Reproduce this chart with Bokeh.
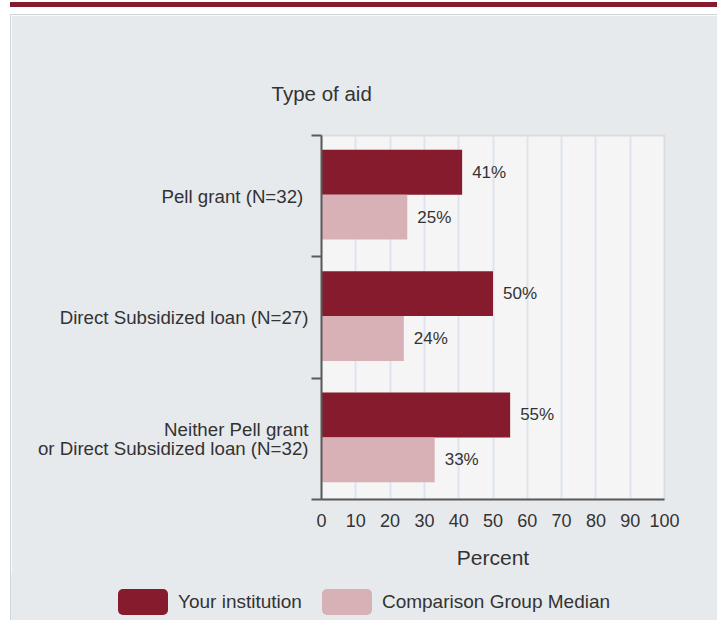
from bokeh.plotting import figure
from bokeh.models import (Range1d, FixedTicker, ColumnDataSource, Div, Spacer)
from bokeh.layouts import column, row
from bokeh.core.properties import value
from bokeh.embed import file_html
from bokeh.resources import INLINE

# ---- data ----
categories = ["Pell grant  (N=32)",
              "Direct Subsidized loan (N=27)",
              "Neither Pell grant\nor Direct Subsidized loan (N=32)"]
your_institution = [41, 50, 55]
comparison_median = [25, 24, 33]
series_names = ["Your institution", "Comparison Group Median"]
x_ticks = [0, 10, 20, 30, 40, 50, 60, 70, 80, 90, 100]

DARK = "#861b2d"
LIGHT = "#d8b1b7"
PANEL = "#e7eaed"
EDGE = "#d2d5d8"
FONT = "Liberation Sans"
TXT = "#333333"
AX = "#5a5a5a"
colors = [DARK, LIGHT]

idx = list(range(len(categories)))
src_a = ColumnDataSource(dict(
    y=[i + 0.303 for i in idx], v=your_institution,
    lab=[f"{v}%" for v in your_institution]))
src_b = ColumnDataSource(dict(
    y=[i + 0.673 for i in idx], v=comparison_median,
    lab=[f"{v}%" for v in comparison_median]))

p = figure(output_backend="svg", toolbar_location=None,
           frame_width=343, frame_height=364,
           min_border_left=310, min_border_right=53,
           min_border_top=120, min_border_bottom=76,
           x_range=Range1d(x_ticks[0], x_ticks[-1]),
           y_range=Range1d(len(categories), 0))
p.border_fill_color = PANEL
p.background_fill_color = "#f5f5f5"
p.outline_line_color = "#d9dde1"
p.outline_line_width = 2

# title
p.title.text = "Type of aid"
p.title.text_font = FONT
p.title.text_font_size = "20.5px"
p.title.text_font_style = "normal"
p.title.text_color = TXT
p.title.align = "left"
p.title.offset = -50
p.title.standoff = 62

ra = p.hbar(y="y", right="v", left=0, height=0.37, source=src_a,
            fill_color=DARK, line_color=None, legend_label=series_names[0])
rb = p.hbar(y="y", right="v", left=0, height=0.37, source=src_b,
            fill_color=LIGHT, line_color=None, legend_label=series_names[1])
p.legend.visible = False   # the visible legend is the strip below

for s in (src_a, src_b):
    p.text(x="v", y="y", text="lab", source=s, x_offset=10,
           text_baseline="middle", text_align="left",
           text_font=value(FONT), text_font_size="17px", text_color=TXT)

# x axis
p.xaxis.ticker = FixedTicker(ticks=x_ticks)
p.xaxis.axis_label = "Percent"
p.xaxis.axis_label_text_font = FONT
p.xaxis.axis_label_text_font_size = "21px"
p.xaxis.axis_label_text_font_style = "normal"
p.xaxis.axis_label_text_color = TXT
p.xaxis.axis_label_standoff = 16
p.xaxis.major_label_text_font = FONT
p.xaxis.major_label_text_font_size = "18px"
p.xaxis.major_label_text_color = TXT
p.xaxis.major_label_standoff = 14
p.xaxis.major_tick_line_color = None
p.xaxis.major_tick_out = 0
p.xaxis.minor_tick_line_color = None
p.xaxis.axis_line_color = AX
p.xaxis.axis_line_width = 2

# y axis: labels at band centres, ticks at band boundaries
p.yaxis.ticker = FixedTicker(ticks=[i + 0.5 for i in idx],
                             minor_ticks=list(range(len(categories) + 1)))
p.yaxis.major_label_overrides = {i + 0.5: c for i, c in zip(idx, categories)}
p.yaxis.major_label_text_font = FONT
p.yaxis.major_label_text_font_size = "18.7px"
p.yaxis.major_label_text_line_height = 0.9
p.yaxis.major_label_text_color = TXT
p.yaxis.major_label_standoff = 3
p.yaxis.major_tick_line_color = None
p.yaxis.major_tick_out = 0
p.yaxis.major_tick_in = 0
p.yaxis.minor_tick_out = 10
p.yaxis.minor_tick_in = 0
p.yaxis.minor_tick_line_color = AX
p.yaxis.minor_tick_line_width = 2
p.yaxis.axis_line_color = AX
p.yaxis.axis_line_width = 2

p.xgrid.ticker = FixedTicker(ticks=x_ticks)
p.xgrid.grid_line_color = "#dde4ef"
p.xgrid.grid_line_width = 2
p.ygrid.grid_line_color = None

# ---- legend strip ----
items_html = "".join(
    '<span style="display:inline-flex;align-items:center;margin-right:20px">'
    f'<span style="display:inline-block;width:50px;height:26px;border-radius:5px;background:{c}"></span>'
    f'<span style="margin-left:10px;font-family:\'{FONT}\';font-size:19px;color:{TXT}">{n}</span>'
    '</span>'
    for n, c in zip(series_names, colors))
legend_html = ('<div style="position:relative;width:706px;height:45px;">'
               '<div style="position:absolute;left:107px;top:13px;display:flex;'
               f'align-items:center;white-space:nowrap">{items_html}</div></div>')
legend_strip = Div(text=legend_html, width=706, height=45, margin=0,
                   styles={"background-color": PANEL})

bar = Div(text="", width=707, height=5, margin=0, styles={"background-color": DARK})
hline = Div(text="", width=707, height=1, margin=0, styles={"background-color": EDGE})
vline = Div(text="", width=1, height=605, margin=0, styles={"background-color": EDGE})

panel = row(vline, column(p, legend_strip, spacing=0), spacing=0)
layout = row(Spacer(width=10, height=620),
             column(Spacer(width=707, height=2), bar, Spacer(width=707, height=7),
                    hline, panel, spacing=0),
             spacing=0)
open("out.html", "w").write(file_html(layout, INLINE))
